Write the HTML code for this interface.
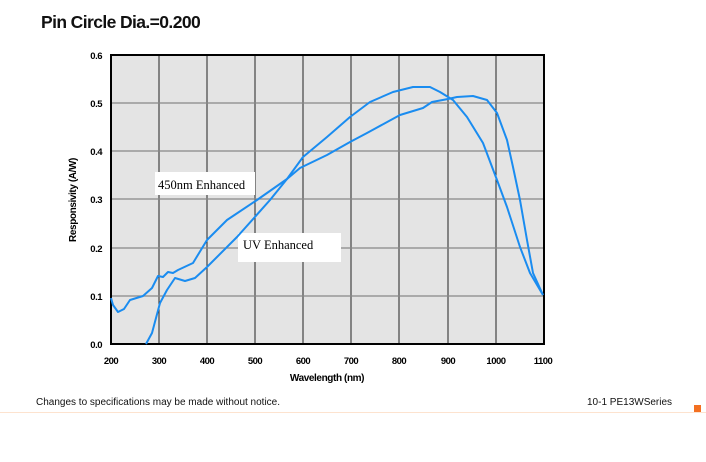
<!DOCTYPE html>
<html><head><style>
body{margin:0;width:706px;height:462px;background:#fff;overflow:hidden;font-family:"Liberation Sans",sans-serif;}
</style></head><body>
<svg width="706" height="462" xmlns="http://www.w3.org/2000/svg" style="position:absolute;left:0;top:0">
<text x="41" y="28" font-family="Liberation Sans" font-size="17.5" font-weight="bold" fill="#111" letter-spacing="-0.6">Pin Circle Dia.=0.200</text>
<rect x="111" y="55" width="433" height="289" fill="#e4e4e4"/>
<g stroke="#222" stroke-width="1">
<line x1="159" y1="55" x2="159" y2="344"/><line x1="207" y1="55" x2="207" y2="344"/>
<line x1="255" y1="55" x2="255" y2="344"/><line x1="303" y1="55" x2="303" y2="344"/>
<line x1="351" y1="55" x2="351" y2="344"/><line x1="399" y1="55" x2="399" y2="344"/>
<line x1="448" y1="55" x2="448" y2="344"/><line x1="496" y1="55" x2="496" y2="344"/>
</g>
<g stroke="#888" stroke-width="1.3">
<line x1="111" y1="103" x2="544" y2="103"/><line x1="111" y1="151" x2="544" y2="151"/>
<line x1="111" y1="199" x2="544" y2="199"/><line x1="111" y1="248" x2="544" y2="248"/>
<line x1="111" y1="296" x2="544" y2="296"/>
</g>
<rect x="111" y="55" width="433" height="289" fill="none" stroke="#000" stroke-width="2"/>
<rect x="155" y="172" width="100" height="23" fill="#fff"/>
<text x="158" y="189" font-family="Liberation Serif" font-size="12.5" fill="#000">450nm Enhanced</text>
<rect x="238" y="233" width="103" height="29" fill="#fff"/>
<text x="243" y="249" font-family="Liberation Serif" font-size="12.5" fill="#000">UV Enhanced</text>
<g fill="none" stroke="#1a8cf0" stroke-width="2" stroke-linejoin="round">
<polyline points="111,298 113,305 118,312 124,309 130,300 143,296 152,288 158,276 163,277 168,272 173,273 178,270 193,263 207,240 227,220 257,200 287,179 300,168 327,155 350,142 367,133 400,115 423,108 432,102 448,99 457,97 473,96 487,100 497,113 507,140 513,167 520,200 527,240 533,273 543,295"/>
<polyline points="146,344 152,333 160,303 167,290 175,278 185,281 195,278 207,267 237,237 270,200 287,179 303,157 327,137 350,117 370,102 393,92 413,87 430,87 440,92 453,100 467,117 483,143 497,180 507,207 520,247 530,273 543,295"/>
</g>
<g font-family="Liberation Sans" font-size="9.5" font-weight="bold" fill="#000" text-anchor="end" letter-spacing="-0.5">
<text x="102" y="59">0.6</text><text x="102" y="107">0.5</text><text x="102" y="155">0.4</text>
<text x="102" y="203">0.3</text><text x="102" y="252">0.2</text><text x="102" y="300">0.1</text><text x="102" y="348">0.0</text>
</g>
<g font-family="Liberation Sans" font-size="9.5" font-weight="bold" fill="#000" text-anchor="middle" letter-spacing="-0.5">
<text x="111" y="364">200</text><text x="159" y="364">300</text><text x="207" y="364">400</text><text x="255" y="364">500</text>
<text x="303" y="364">600</text><text x="351" y="364">700</text><text x="399" y="364">800</text><text x="448" y="364">900</text>
<text x="496" y="364">1000</text><text x="543" y="364">1100</text>
</g>
<text x="327" y="381" font-family="Liberation Sans" font-size="10" font-weight="bold" text-anchor="middle" letter-spacing="-0.4">Wavelength (nm)</text>
<text transform="translate(76,200) rotate(-90)" font-family="Liberation Sans" font-size="10" font-weight="bold" text-anchor="middle" letter-spacing="-0.4">Responsivity (A/W)</text>
<text x="36" y="405" font-family="Liberation Sans" font-size="10" fill="#111">Changes to specifications may be made without notice.</text>
<text x="587" y="405" font-family="Liberation Sans" font-size="10" fill="#111">10-1 PE13WSeries</text>
<line x1="0" y1="412.5" x2="706" y2="412.5" stroke="#fde3cf" stroke-width="1"/>
<rect x="694" y="405" width="7" height="7" fill="#f37021"/>
</svg>
</body></html>
